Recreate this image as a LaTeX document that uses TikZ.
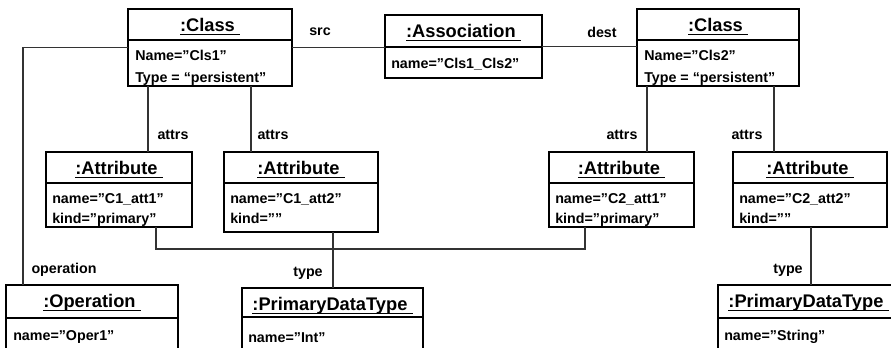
\documentclass[tikz,border=0pt]{standalone}
\usepackage{fontspec}
\setmainfont{Liberation Sans}
\usetikzlibrary{fit,calc}
\newcommand\objtitle[1]{\setbox0\hbox{#1\kern0.28em}\rlap{\vrule width\wd0 height -1.6pt depth 2.5pt}\box0}
\tikzset{
  boxfit/.style={draw=black, line width=1.4pt, inner sep=0pt, outer sep=0pt},
  divline/.style={draw=black, line width=0.8pt},
  titletext/.style={anchor=base, inner sep=0pt, font=\fontsize{13.7pt}{16pt}\selectfont\bfseries},
  bodytext/.style={anchor=base west, inner sep=0pt, font=\fontsize{10.7pt}{13pt}\selectfont\bfseries},
  lbl/.style={inner sep=0pt, font=\fontsize{10.7pt}{13pt}\selectfont\bfseries},
  conn/.style={draw=black!80, line width=0.9pt},
}
\newcommand\objbox[7]{%
  \node[boxfit, fit={(#2,#3) (#4,#5)}] (#1) {};
  \draw[divline] (#2,#6) -- (#4,#6);
  \node[titletext] (#1-title) at ({(#2+#4)/2},{#3+22.5}) {\objtitle{#7}};
}
\begin{document}
\begin{tikzpicture}[x=0.75pt,y=-0.75pt]
\useasboundingbox (0,0) rectangle (891,347);
\clip (0,0) rectangle (891,347);
\fill[white] (0,0) rectangle (891,347);
% objects
\objbox{cls1}{128}{9}{292}{86}{40}{:Class}
\node[bodytext] (cls1-a) at (135,60) {Name="Cls1"};
\node[bodytext] (cls1-b) at (135,82) {Type = “persistent”};
\objbox{assoc}{385}{15}{542}{78}{47}{:Association}
\node[bodytext] (assoc-a) at (391,68) {name="Cls1\_Cls2"};
\objbox{cls2}{637}{9}{799}{86}{40}{:Class}
\node[bodytext] (cls2-a) at (644,60) {Name="Cls2"};
\node[bodytext] (cls2-b) at (644,82) {Type = “persistent”};
\objbox{att1}{46}{152}{192}{227}{183}{:Attribute}
\node[bodytext] (att1-a) at (52,203) {name="C1\_att1"};
\node[bodytext] (att1-b) at (52,223) {kind="primary"};
\objbox{att2}{224}{152}{378}{232}{183}{:Attribute}
\node[bodytext] (att2-a) at (230,203) {name="C1\_att2"};
\node[bodytext] (att2-b) at (230,223) {kind=""};
\objbox{att3}{549}{152}{694}{227}{183}{:Attribute}
\node[bodytext] (att3-a) at (555,203) {name="C2\_att1"};
\node[bodytext] (att3-b) at (555,223) {kind="primary"};
\objbox{att4}{733}{152}{887}{227}{183}{:Attribute}
\node[bodytext] (att4-a) at (739,203) {name="C2\_att2"};
\node[bodytext] (att4-b) at (739,223) {kind=""};
\objbox{oper}{6}{285}{178}{370}{318}{:Operation}
\node[bodytext] (oper-a) at (13,340) {name="Oper1"};
\objbox{pdt1}{242}{288}{423}{370}{317}{:PrimaryDataType}
\node[bodytext] (pdt1-a) at (248,342) {name="Int"};
\objbox{pdt2}{718}{285}{899}{370}{318}{:PrimaryDataType}
\node[bodytext] (pdt2-a) at (724,340) {name="String"};
% connectors
\coordinate (opx) at ($(oper.north west)+(17,0)$);
\draw[conn] (cls1.west) -| (opx);
\node[lbl] (l-oper) at (64,270) {operation};
\draw[conn] (cls1.east) -- (cls1.east -| assoc.west);
\node[lbl] (l-src) at (320,32) {src};
\draw[conn] (assoc.east) -- (assoc.east -| cls2.west);
\node[lbl] (l-dest) at (602,32) {dest};
\coordinate (a1) at ($(cls1.south west)+(20,0)$);
\coordinate (a2) at ($(cls1.south west)+(123,0)$);
\coordinate (a3) at ($(cls2.south west)+(10,0)$);
\coordinate (a4) at ($(cls2.south west)+(137,0)$);
\draw[conn] (a1) -- (a1 |- att1.north);
\draw[conn] (a2) -- (a2 |- att2.north);
\draw[conn] (a3) -- (a3 |- att3.north);
\draw[conn] (a4) -- (a4 |- att4.north);
\node[lbl] (l-a1) at (173,135) {attrs};
\node[lbl] (l-a2) at (273,135) {attrs};
\node[lbl] (l-a3) at (622,135) {attrs};
\node[lbl] (l-a4) at (747,135) {attrs};
\coordinate (k1) at ($(att1.south west)+(110,0)$);
\coordinate (k2) at ($(att3.south west)+(36,0)$);
\draw[conn] (k1) -- ++(0,22) -| (k2);
\coordinate (t1) at ($(att2.south west)+(109,0)$);
\coordinate (t2) at ($(att4.south west)+(78,0)$);
\draw[conn] (t1) -- (t1 |- pdt1.north);
\draw[conn] (t2) -- (t2 |- pdt2.north);
\node[lbl] (l-t1) at (308,273) {type};
\node[lbl] (l-t2) at (788,270) {type};
\end{tikzpicture}
\end{document}
